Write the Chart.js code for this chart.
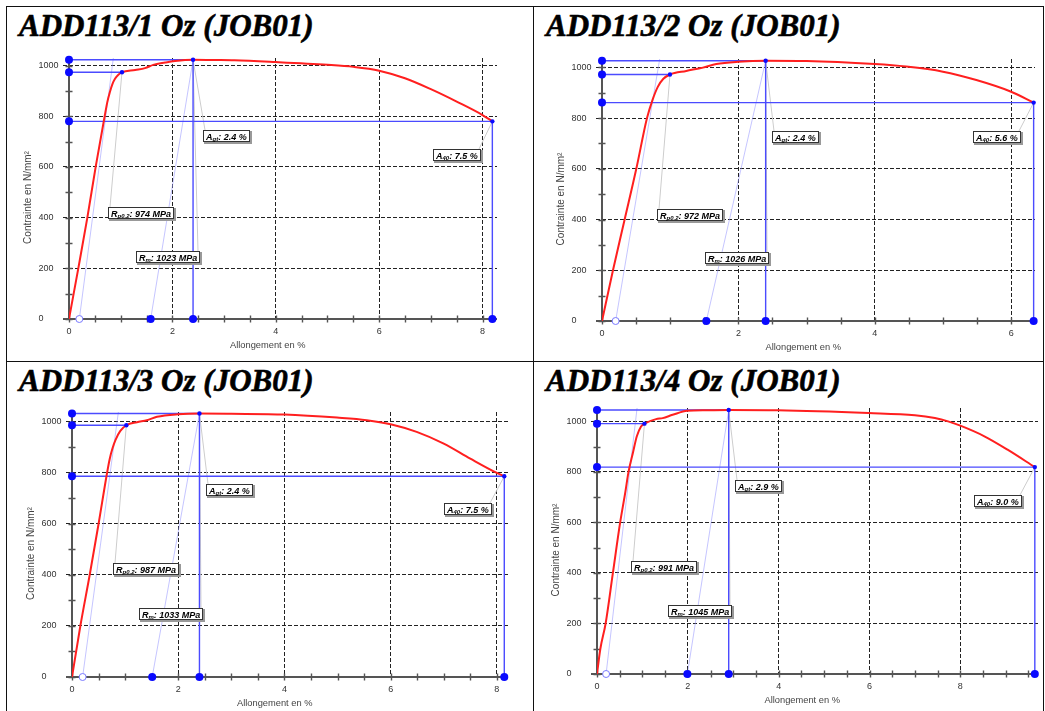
<!DOCTYPE html>
<html>
<head>
<meta charset="utf-8">
<title>ADD113 Oz (JOB01) – essais de traction</title>
<script src="https://cdn.jsdelivr.net/npm/chart.js@4/dist/chart.umd.min.js"></script>
<style>
  html, body { margin: 0; padding: 0; background: #fff; }
  body { position: relative; width: 1045px; height: 711px; overflow: hidden; }
  .rule { position: absolute; background: #111; }
  .ptitle {
    position: absolute; white-space: nowrap;
    font-family: "Liberation Serif", "Times New Roman", serif;
    font-style: italic; font-weight: bold; font-size: 31px; line-height: 30px; color: #000;
    -webkit-text-stroke: 0.6px #000;
  }
  canvas { position: absolute; }
</style>
</head>
<body>
<div class="rule" style="left:6px;top:6px;width:1038px;height:1px"></div>
<div class="rule" style="left:6px;top:6px;width:1px;height:705px"></div>
<div class="rule" style="left:533px;top:6px;width:1px;height:705px"></div>
<div class="rule" style="left:1043px;top:6px;width:1px;height:705px"></div>
<div class="rule" style="left:6px;top:361px;width:1038px;height:1px"></div>
<script>
// ---------- test results ----------
const panelTitles = ['ADD113/1 Oz (JOB01)', 'ADD113/2 Oz (JOB01)', 'ADD113/3 Oz (JOB01)', 'ADD113/4 Oz (JOB01)'];

// stress–strain curves (strain in %, stress in N/mm²)
const strain1 = [0, 0.18, 0.355, 0.516, 0.69, 0.74, 0.79, 0.84, 0.89, 0.95, 1.025, 1.28, 1.47, 1.63, 1.86, 2.05, 2.4, 2.8, 3.2, 4.0, 5.0, 5.5, 6.0, 6.5, 7.0, 7.5, 8.0, 8.19];
const stress1 = [0, 200, 400, 600, 800, 855, 895, 927, 948, 963, 974, 983, 990, 1003, 1012, 1018, 1023, 1022, 1021, 1014, 1003, 995, 980, 950, 907, 858, 805, 780];

const strain2 = [0, 0.161, 0.332, 0.503, 0.66, 0.74, 0.82, 0.9, 0.997, 1.236, 1.48, 1.676, 2.0, 2.4, 3.0, 4.0, 4.46, 5.0, 5.49, 6.0, 6.33];
const stress2 = [0, 200, 400, 600, 800, 871, 924, 955, 972, 986, 999, 1013, 1022, 1026, 1025, 1013, 1003, 983, 950, 904, 861];

const strain3 = [0, 0.157, 0.333, 0.5, 0.66, 0.71, 0.76, 0.82, 0.91, 1.023, 1.223, 1.41, 1.6, 1.995, 2.4, 3.0, 4.0, 4.99, 5.55, 6.0, 6.49, 7.0, 7.5, 8.0, 8.14];
const stress3 = [0, 200, 400, 600, 800, 855, 895, 930, 965, 987, 999, 1007, 1020, 1030, 1033, 1032, 1029, 1017, 1007, 991, 961, 915, 856, 800, 787];

const strain4 = [0, 0.073, 0.19, 0.35, 0.51, 0.62, 0.694, 0.79, 0.877, 0.97, 1.045, 1.3, 1.446, 1.665, 1.987, 2.4, 2.9, 3.98, 5.98, 7.0, 7.44, 7.73, 8.0, 8.53, 9.04, 9.64];
const stress4 = [0, 99, 200, 400, 600, 716, 800, 875, 941, 980, 991, 1009, 1013, 1026, 1042, 1044, 1045, 1044, 1033, 1024, 1013, 1000, 983, 941, 888, 819];

const curveStrain = [strain1, strain2, strain3, strain4];
const curveStress = [stress1, stress2, stress3, stress4];

// characteristic values
const rp02 = [974, 972, 987, 991];            // Rp0.2, MPa
const rpStrain = [1.025, 0.997, 1.023, 1.045]; // strain at Rp0.2, %
const rm = [1023, 1026, 1033, 1045];          // Rm, MPa
const agt = [2.4, 2.4, 2.4, 2.9];             // Agt, % (strain at Rm)
const agPlastic = [1.58, 1.53, 1.51, 1.99];   // plastic part of Agt, %
const a40 = [7.5, 5.6, 7.5, 9.0];             // A40, %
const breakStrain = [8.19, 6.33, 8.14, 9.64]; // strain at fracture, %
const breakStress = [780, 861, 787, 819];     // stress at fracture, MPa
const offsetStrain = 0.2;                     // 0.2 % offset origin
const offsetLineStrain = [0.877, 0.863, 0.887, 0.887]; // offset line end strain at offsetLineStress
const offsetLineStress = 1060;

// axes
const xMax = [8.28, 6.35, 8.21, 9.71];
const yMax = [1030, 1033, 1039, 1053];
const xTickStep = 0.5, xLabelStep = 2;
const yTickStep = 100, yLabelStep = 200;
const xAxisTitle = 'Allongement en %';
const yAxisTitle = 'Contrainte en N/mm²';

// ---------- page layout ----------
const cells = [
  { left: 7, top: 7, w: 526, h: 354 },
  { left: 534, top: 7, w: 509, h: 354 },
  { left: 7, top: 362, w: 526, h: 349 },
  { left: 534, top: 362, w: 509, h: 349 }
];
// plot frames in page pixels
const frames = [
  { L: 69, R: 497, T: 58, B: 319 },
  { L: 602, R: 1035, T: 59, B: 321 },
  { L: 72, R: 508, T: 412, B: 677 },
  { L: 597, R: 1040, T: 408, B: 674 }
];
// annotation boxes: centre in data units
const boxSpots = [
  { rp: [1.39, 418], rm: [1.92, 245], ag: [3.04, 723], a40: [7.51, 647] },
  { rp: [1.285, 418], rm: [1.98, 247], ag: [2.836, 727], a40: [5.80, 727] },
  { rp: [1.396, 425], rm: [1.866, 246], ag: [2.97, 732], a40: [7.456, 657] },
  { rp: [1.483, 425], rm: [2.257, 250], ag: [3.565, 743], a40: [8.84, 685] }
];

const Y_BAND = 30.5;  // width of the y tick-label band
const X_BAND = 30;    // height of the x tick-label band

const SANS = '"Liberation Sans", Arial, sans-serif';
const BLUE_LINE = '#4b4bff';
const BLUE_DOT = '#0a0aff';
const RED = '#ff1f1f';
const FAINT = 'rgba(150,150,255,0.55)';
const LEADER = '#cdcdcd';
const AXIS = '#555';

function pts(xs, ys) { return xs.map((v, k) => ({ x: v, y: ys[k] })); }

function boxParts(kind, i) {
  if (kind === 'rp') return [['R', 0], ['p0.2', 1], [': ' + rp02[i] + ' MPa', 0]];
  if (kind === 'rm') return [['R', 0], ['m', 1], [': ' + rm[i] + ' MPa', 0]];
  if (kind === 'ag') return [['A', 0], ['gt', 1], [': ' + agt[i].toFixed(1) + ' %', 0]];
  return [['A', 0], ['40', 1], [': ' + a40[i].toFixed(1) + ' %', 0]];
}
function boxTarget(kind, i) {
  if (kind === 'rp') return [rpStrain[i], rp02[i]];
  if (kind === 'rm' || kind === 'ag') return [agt[i], rm[i]];
  return [breakStrain[i], breakStress[i]];
}

const MAIN_FONT = 'italic bold 9px ' + SANS;
const SUB_FONT = 'italic bold 6px ' + SANS;

function measureBox(ctx, chart, kind, i) {
  const parts = boxParts(kind, i);
  let w = 0;
  ctx.save();
  for (const [t, sub] of parts) { ctx.font = sub ? SUB_FONT : MAIN_FONT; w += ctx.measureText(t).width; }
  ctx.restore();
  const spot = boxSpots[i][kind];
  const cx = chart.scales.x.getPixelForValue(spot[0]);
  const cy = chart.scales.y.getPixelForValue(spot[1]);
  const bw = Math.round(w + 6), bh = 12;
  const l = Math.round(cx - bw / 2), t = Math.round(cy - bh / 2);
  return { parts, l, t, r: l + bw, b: t + bh, w: bw, h: bh };
}

const tensileDecor = {
  id: 'tensileDecor',
  beforeDatasetsDraw(chart, args, opts) {
    const i = opts.panel;
    const { ctx, chartArea: a, scales: { x, y } } = chart;
    ctx.save();
    // tick marks crossing the axes
    ctx.strokeStyle = AXIS; ctx.lineWidth = 1.4;
    ctx.beginPath();
    for (const t of x.ticks) {
      const px = Math.round(x.getPixelForValue(t.value)) + 0.5;
      ctx.moveTo(px, a.bottom - 3.5); ctx.lineTo(px, a.bottom + 3.5);
    }
    for (const t of y.ticks) {
      const py = Math.round(y.getPixelForValue(t.value)) + 0.5;
      ctx.moveTo(a.left - 3.5, py); ctx.lineTo(a.left + 3.5, py);
    }
    ctx.stroke();
    // axis lines
    ctx.lineWidth = 2;
    ctx.beginPath();
    ctx.moveTo(a.left - 6, a.bottom); ctx.lineTo(a.right, a.bottom);
    ctx.moveTo(a.left, a.top); ctx.lineTo(a.left, a.bottom);
    ctx.stroke();
    // leader lines from the annotation boxes
    ctx.strokeStyle = LEADER; ctx.lineWidth = 1;
    for (const kind of ['rp', 'rm', 'ag', 'a40']) {
      const bx = measureBox(ctx, chart, kind, i);
      const tg = boxTarget(kind, i);
      const tx = x.getPixelForValue(tg[0]), ty = y.getPixelForValue(tg[1]);
      const sx = Math.abs(tx - bx.l) < Math.abs(tx - bx.r) ? bx.l + 2 : bx.r - 2;
      ctx.beginPath(); ctx.moveTo(sx, bx.t); ctx.lineTo(tx, ty); ctx.stroke();
    }
    // axis titles
    ctx.fillStyle = '#444';
    ctx.font = '9.3px ' + SANS;
    ctx.textAlign = 'center'; ctx.textBaseline = 'middle';
    ctx.fillText(xAxisTitle, (a.left - Y_BAND + a.right) / 2, a.bottom + 26);
    ctx.save();
    ctx.translate(a.left - 40.5, (a.top + a.bottom) / 2 + 9);
    ctx.rotate(-Math.PI / 2);
    ctx.font = '10px ' + SANS;
    ctx.fillText(yAxisTitle, 0, 0);
    ctx.restore();
    ctx.restore();
  },
  afterDatasetsDraw(chart, args, opts) {
    const i = opts.panel;
    const { ctx } = chart;
    ctx.save();
    for (const kind of ['rp', 'rm', 'ag', 'a40']) {
      const bx = measureBox(ctx, chart, kind, i);
      ctx.fillStyle = '#999';
      ctx.fillRect(bx.l + 1, bx.t + 1, bx.w + 1, bx.h + 1);
      ctx.fillStyle = '#fff';
      ctx.fillRect(bx.l, bx.t, bx.w, bx.h);
      ctx.strokeStyle = '#333'; ctx.lineWidth = 1;
      ctx.strokeRect(bx.l + 0.5, bx.t + 0.5, bx.w - 1, bx.h - 1);
      let px = bx.l + 3;
      const base = bx.t + 9.5;
      ctx.fillStyle = '#000'; ctx.textAlign = 'left'; ctx.textBaseline = 'alphabetic';
      for (const [t, sub] of bx.parts) {
        ctx.font = sub ? SUB_FONT : MAIN_FONT;
        ctx.fillText(t, px, sub ? base + 1.5 : base);
        px += ctx.measureText(t).width;
      }
    }
    ctx.restore();
  }
};

function config(i) {
  const c = cells[i], f = frames[i];
  const line = (data, color, width) => ({
    data, showLine: true, borderColor: color, borderWidth: width,
    pointRadius: 0, backgroundColor: color, fill: false
  });
  return {
    type: 'scatter',
    data: {
      datasets: [
        // points on the curve
        { data: [{ x: rpStrain[i], y: rp02[i] }, { x: agt[i], y: rm[i] }, { x: breakStrain[i], y: breakStress[i] }],
          pointRadius: 2.2, pointBackgroundColor: BLUE_DOT, pointBorderWidth: 0, clip: false },
        // projections on the axes
        { data: [{ x: 0, y: rm[i] }, { x: 0, y: rp02[i] }, { x: 0, y: breakStress[i] },
                 { x: agPlastic[i], y: 0 }, { x: agt[i], y: 0 }, { x: breakStrain[i], y: 0 }],
          pointRadius: 4, pointBackgroundColor: BLUE_DOT, pointBorderWidth: 0, clip: false },
        // 0.2 % offset origin
        { data: [{ x: offsetStrain, y: 0 }], pointRadius: 3.5, pointBackgroundColor: '#fff',
          pointBorderColor: '#7a7aff', pointBorderWidth: 1, clip: false },
        // stress–strain curve
        Object.assign(line(pts(curveStrain[i], curveStress[i]), RED, 2), { cubicInterpolationMode: 'monotone' }),
        // construction lines
        line([{ x: 0, y: rm[i] }, { x: agt[i], y: rm[i] }, { x: agt[i], y: 0 }], BLUE_LINE, 1.4),
        line([{ x: 0, y: rp02[i] }, { x: rpStrain[i], y: rp02[i] }], BLUE_LINE, 1.4),
        line([{ x: 0, y: breakStress[i] }, { x: breakStrain[i], y: breakStress[i] }, { x: breakStrain[i], y: 0 }], BLUE_LINE, 1.4),
        // elastic unloading lines
        line([{ x: offsetStrain, y: 0 }, { x: offsetLineStrain[i], y: offsetLineStress }], FAINT, 1),
        line([{ x: agPlastic[i], y: 0 }, { x: agt[i], y: rm[i] }], FAINT, 1)
      ]
    },
    options: {
      responsive: false,
      animation: false,
      devicePixelRatio: 1,
      events: [],
      layout: {
        padding: {
          left: f.L - c.left - Y_BAND,
          right: c.left + c.w - f.R,
          top: f.T - c.top,
          bottom: c.top + c.h - f.B - X_BAND
        }
      },
      plugins: {
        legend: { display: false },
        tooltip: { enabled: false },
        title: { display: false },
        tensileDecor: { panel: i }
      },
      scales: {
        x: {
          type: 'linear', min: 0, max: xMax[i],
          afterFit(s) { s.height = X_BAND; },
          ticks: {
            stepSize: xTickStep, includeBounds: false, autoSkip: false, maxRotation: 0,
            padding: 7, color: '#333', font: { family: SANS, size: 9 },
            callback: v => (Math.abs(v % xLabelStep) < 1e-9 ? String(v) : '')
          },
          grid: {
            drawTicks: false, lineWidth: 1,
            color: c2 => (c2.tick && c2.tick.value > 0 && Math.abs(c2.tick.value % xLabelStep) < 1e-9) ? '#222' : 'rgba(0,0,0,0)'
          },
          border: { display: false, dash: [4, 2] }
        },
        y: {
          type: 'linear', min: 0, max: yMax[i],
          afterFit(s) { s.width = Y_BAND; },
          ticks: {
            stepSize: yTickStep, includeBounds: false, autoSkip: false,
            crossAlign: 'far', padding: 4.5, color: '#333', font: { family: SANS, size: 9 },
            callback: v => (v % yLabelStep === 0 ? String(v) : '')
          },
          grid: {
            drawTicks: true, tickLength: 6, lineWidth: 1, tickBorderDash: [4, 2],
            color: c2 => (c2.tick && c2.tick.value > 0 && c2.tick.value % yLabelStep === 0) ? '#222' : 'rgba(0,0,0,0)',
            tickColor: c2 => (c2.tick && c2.tick.value > 0 && c2.tick.value % yLabelStep === 0) ? '#222' : 'rgba(0,0,0,0)'
          },
          border: { display: false, dash: [4, 2] }
        }
      }
    },
    plugins: [tensileDecor]
  };
}

cells.forEach((c, i) => {
  const h = document.createElement('div');
  h.className = 'ptitle';
  h.textContent = panelTitles[i];
  h.style.left = (c.left + 12) + 'px';
  h.style.top = (c.top + 4) + 'px';
  document.body.appendChild(h);

  const cv = document.createElement('canvas');
  cv.width = c.w; cv.height = c.h;
  cv.style.left = c.left + 'px'; cv.style.top = c.top + 'px';
  cv.style.width = c.w + 'px'; cv.style.height = c.h + 'px';
  document.body.appendChild(cv);
  new Chart(cv, config(i));
});
</script>
</body>
</html>
